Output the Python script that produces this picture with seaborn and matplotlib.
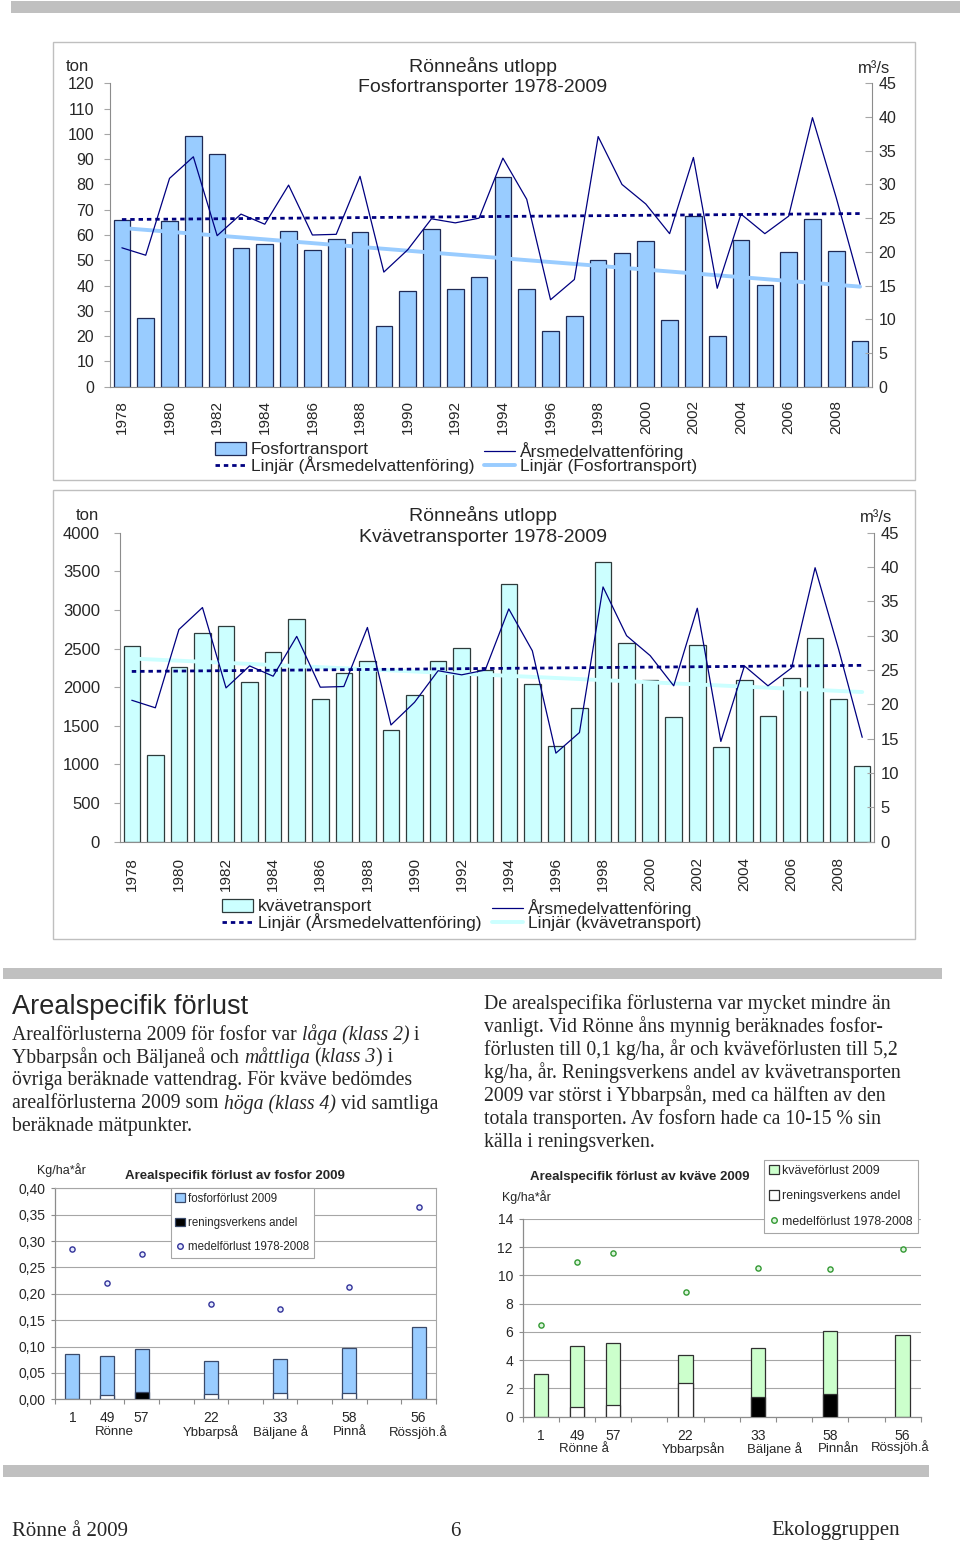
import numpy as np
import matplotlib
matplotlib.use("Agg")
import matplotlib.pyplot as plt
import seaborn as sns
from matplotlib.patches import Rectangle, Patch
from matplotlib.lines import Line2D

# Page size in pixels
W, H = 960, 1544

# Transport data 1978-2009
years = list(range(1978, 2010))
fosfor_ton = [66, 27, 65.5, 99, 92, 55, 56.6, 61.7, 54, 58.5, 61.3, 24.1, 37.8, 62.2, 38.8, 43.3,
              83, 38.5, 22, 27.8, 50, 52.7, 57.5, 26.5, 67.4, 20, 57.9, 40.4, 53.1, 66.2, 53.8, 18]
kvave_ton = [2537, 1126, 2257, 2705, 2796, 2067, 2451, 2887, 1851, 2179, 2343, 1441, 1894, 2343, 2507, 2218,
             3340, 2037, 1238, 1735, 3625, 2572, 2097, 1614, 2542, 1221, 2093, 1631, 2123, 2636, 1851, 984]
flode = [20.6, 19.5, 30.9, 34.1, 22.4, 25.6, 24.1, 29.9, 22.5, 22.6, 31.2, 17.0, 20.3, 24.9, 24.3, 25.0,
         33.9, 27.8, 12.9, 15.9, 37.1, 30.0, 27.1, 22.7, 34.0, 14.6, 25.6, 22.7, 25.3, 39.9, 28.0, 15.2]

# Area specific losses 2009 per station
stations = ["1", "49", "57", "22", "33", "58", "56"]
p_namn = ["Rönne", "Ybbarpså", "Bäljane å", "Pinnå", "Rössjöh.å"]
n_namn = ["Rönne å", "Ybbarpsån", "Bäljane å", "Pinnån", "Rössjöh.å"]
p_forlust = [0.085, 0.083, 0.095, 0.072, 0.077, 0.097, 0.138]
p_andel = [0, 0.008, 0.013, 0.010, 0.012, 0.012, 0]
p_andel_typ = ["vit", "vit", "svart", "vit", "vit", "vit", "vit"]
p_medel = [0.284, 0.221, 0.276, 0.181, 0.172, 0.212, 0.365]
n_forlust = [3.0, 5.0, 5.22, 4.39, 4.9, 6.09, 5.8]
n_andel = [0, 0.68, 0.8, 2.36, 1.37, 1.6, 0]
n_andel_typ = ["vit", "vit", "vit", "vit", "svart", "svart", "vit"]
n_medel = [6.49, 10.93, 11.59, 8.85, 10.5, 10.43, 11.85]

NAVY = "#000080"
AXC = "#8C8C8C"
GRID = "#A6A6A6"
SERIF = ["Liberation Serif", "DejaVu Serif"]

sns.set_theme(style="white")
plt.rcParams["font.family"] = ["Liberation Sans", "DejaVu Sans"]

fig = plt.figure(figsize=(W / 100, H / 100), dpi=100)
fig.patch.set_facecolor("white")


def px_axes(x0, y0, x1, y1):
    return fig.add_axes([x0 / W, 1 - y1 / H, (x1 - x0) / W, (y1 - y0) / H])


def put(x, y, s, **kw):
    return fig.text(x / W, 1 - y / H, s, **kw)


def band(x0, y0, x1, y1, color="#C0C0C0", fill=True, lw=0):
    fig.add_artist(Rectangle((x0 / W, 1 - y1 / H), (x1 - x0) / W, (y1 - y0) / H,
                             transform=fig.transFigure, fill=fill, facecolor=color,
                             edgecolor=color, lw=lw))


# Transport chart with flow on a second axis
def transport_chart(area, values, ymax, ystep, fill, edge, trend, name, title, ysize, xpad, ypad, leg):
    ax = px_axes(*area)
    sns.barplot(x=years, y=values, native_scale=True, width=0.7, color=fill, saturation=1,
                edgecolor=edge, linewidth=0.9, errorbar=None, ax=ax)
    sns.regplot(x=years, y=values, scatter=False, ci=None, truncate=True, color=trend,
                line_kws={"lw": 2.8}, ax=ax)
    ax.set_ylim(0, ymax)
    ax.set_yticks(np.arange(0, ymax + 1, ystep))
    ax.tick_params(axis="y", left=True, direction="out", length=4, width=0.8, color=GRID,
                   labelsize=ysize, pad=ypad)
    ax.set_xticks(range(1978, 2010, 2))
    ax.set_xticklabels([str(y) for y in range(1978, 2010, 2)], rotation=90, fontsize=11)
    ax.tick_params(axis="x", length=0, pad=xpad)
    ax.set_xlabel("")
    ax.set_ylabel("")
    ax.spines[["top", "right"]].set_visible(False)
    ax.spines[["left", "bottom"]].set_color(AXC)
    ax.spines[["left", "bottom"]].set_linewidth(0.8)

    ax2 = ax.twinx()
    sns.lineplot(x=years, y=flode, color=NAVY, lw=0.9, ax=ax2)
    sns.regplot(x=years, y=flode, scatter=False, ci=None, truncate=True, color=NAVY,
                line_kws={"lw": 2.0, "ls": (0, (1.6, 1.4))}, ax=ax2)
    ax2.set_ylim(0, 45)
    ax2.set_yticks(range(0, 46, 5))
    ax2.tick_params(axis="y", right=True, direction="in", length=5, width=0.8, color=GRID,
                    labelsize=ysize, pad=4.5)
    ax2.set_ylabel("")
    ax2.spines[["top", "left", "bottom"]].set_visible(False)
    ax2.spines["right"].set_color(AXC)
    ax2.spines["right"].set_linewidth(0.8)
    ax.set_xlim(1977.5, 2009.5)

    x0, y0, x1, y1 = area
    put(483, y0 - 17, "Rönneåns utlopp", fontsize=14, ha="center", va="center")
    put(483, y0 + 4.5, title, fontsize=14, ha="center", va="center")
    put(x0 - 44, y0 - 17, "ton", fontsize=12, ha="left", va="center")
    put(x1 - 14, y0 - 15, "m³/s", fontsize=12, ha="left", va="center")

    lx1, lx2, ly = leg
    dash = Line2D([], [], color=NAVY, lw=2.0, ls=(0, (1.6, 1.4)), label="Linjär (Årsmedelvattenföring)")
    col1 = [Patch(facecolor=fill, edgecolor=edge, lw=0.9, label=name), dash]
    col2 = [Line2D([], [], color=NAVY, lw=0.9, label="Årsmedelvattenföring"),
            Line2D([], [], color=trend, lw=2.8, label=f"Linjär ({name})")]
    for lx, hs in [(lx1, col1), (lx2, col2)]:
        fig.legend(handles=hs, loc="upper left", bbox_to_anchor=(lx / W, 1 - ly / H),
                   frameon=False, fontsize=12.5, borderpad=0, borderaxespad=0, labelspacing=-0.08,
                   handlelength=1.8, handleheight=0.75, handletextpad=0.25)


# Area loss chart with stacked share and mean markers
slot_pos = [0, 1, 2, 4, 6, 8, 10]


def loss_chart(area, total, andel, andel_typ, medel, ymax, ystep, fmt, fill, edge, dot_fill, dot_edge,
               first_label, names, name_pos, box, title, title_x, unit_xy, leg_anchor, leg_size, leg_space):
    ax = px_axes(*area)
    sns.barplot(x=slot_pos, y=total, native_scale=True, width=0.4, color=fill, saturation=1,
                edgecolor=edge, linewidth=0.9, errorbar=None, ax=ax, zorder=2)
    keep = [i for i, v in enumerate(andel) if v > 0]
    sns.barplot(x=[slot_pos[i] for i in keep], y=[andel[i] for i in keep],
                hue=[andel_typ[i] for i in keep], palette={"vit": "white", "svart": "black"},
                native_scale=True, dodge=False, width=0.4, saturation=1, edgecolor=edge,
                linewidth=0.9, errorbar=None, legend=False, ax=ax, zorder=3)
    sns.scatterplot(x=slot_pos, y=medel, marker="o", s=14, color=dot_fill, edgecolor=dot_edge,
                    linewidth=1.0, ax=ax, zorder=4)
    ax.set_xlim(-0.5, 10.5)
    ax.set_ylim(0, ymax)
    ticks = np.arange(0, ymax + ystep / 2, ystep)
    ax.set_yticks(ticks)
    ax.set_yticklabels([fmt(t) for t in ticks])
    ax.yaxis.grid(True, color=GRID, lw=0.8)
    ax.set_axisbelow(True)
    ax.set_xticks([])
    ax.set_xticks(np.arange(-0.5, 11, 1), minor=True)
    ax.tick_params(axis="x", which="minor", bottom=True, direction="out", length=3.5, width=0.8, color=AXC)
    ax.tick_params(axis="y", left=True, direction="out", length=3, width=0.8, color=AXC,
                   labelsize=10, pad=4)
    ax.set_xlabel("")
    ax.set_ylabel("")
    ax.spines[["left", "bottom"]].set_color(AXC)
    ax.spines[["left", "bottom"]].set_linewidth(0.9)
    if box:
        ax.spines[["top", "right"]].set_color(GRID)
        ax.spines[["top", "right"]].set_linewidth(0.8)
    else:
        ax.spines[["top", "right"]].set_visible(False)

    x0, y0, x1, y1 = area
    h = y1 - y0
    trans = ax.get_xaxis_transform()
    for p, s in zip(slot_pos, stations):
        ax.text(p, -19 / h, s, transform=trans, ha="center", va="center", fontsize=10)
    for (p, dy), s in zip(name_pos, names):
        ax.text(p, -dy / h, s, transform=trans, ha="center", va="center", fontsize=9.5)

    put(title_x, y0 - (12 if box else 42), title, fontsize=9.5, fontweight="bold", ha="center", va="center")
    put(unit_xy[0], unit_xy[1], "Kg/ha*år", fontsize=9, ha="left", va="center")

    handles = [Patch(facecolor=fill, edgecolor=edge, lw=0.9, label=first_label),
               Patch(facecolor=("black" if box else "white"), edgecolor=edge, lw=0.9, label="reningsverkens andel"),
               Line2D([], [], ls="", marker="o", ms=4, mfc=dot_fill, mec=dot_edge, mew=1.0,
                      label="medelförlust 1978-2008")]
    lg = ax.legend(handles=handles, loc="upper left", bbox_to_anchor=leg_anchor, fontsize=leg_size,
                   frameon=True, fancybox=False, edgecolor=GRID, framealpha=1, borderpad=0.4,
                   labelspacing=leg_space, handlelength=0.8, handleheight=0.8, handletextpad=0.3,
                   borderaxespad=0)
    lg.get_frame().set_linewidth(0.8)
    lg.set_zorder(6)


# Page decorations
band(11, 1, 960, 13)
band(3, 968, 942, 979)
band(3, 1465, 929, 1477)
band(53, 42, 915, 480, color="#BFBFBF", fill=False, lw=1)
band(53, 490, 915, 939, color="#BFBFBF", fill=False, lw=1)

transport_chart((110, 83.3, 872, 386.7), fosfor_ton, 120, 10, "#99CCFF", "#1F2A55", "#99CCFF",
                "Fosfortransport", "Fosfortransporter 1978-2009", 11.5, 9.5, 7.4, (215, 484, 442))
transport_chart((120, 532.7, 874, 841.7), kvave_ton, 4000, 500, "#CCFFFF", "#2E3B3B", "#CCFFFF",
                "kvävetransport", "Kvävetransporter 1978-2009", 12, 11, 10.5, (222, 492, 899))

loss_chart((55, 1188.3, 436, 1399.3), p_forlust, p_andel, p_andel_typ, p_medel, 0.40, 0.05,
           lambda t: f"{t:.2f}".replace(".", ","), "#99CCFF", "#3A4A6A", "#E6ECFF", "#333399",
           "fosforförlust 2009", p_namn, [(1.2, 33), (4.0, 33), (6.0, 33), (8.0, 33), (10.0, 33)], True,
           "Arealspecifik förlust av fosfor 2009", 235, (37, 1170), (0.304, 1.0), 8.3, 1.05)
loss_chart((522.7, 1219, 920.7, 1416.7), n_forlust, n_andel, n_andel_typ, n_medel, 14, 2,
           lambda t: f"{t:.0f}", "#CCFFCC", "#303030", "#DDF5DD", "#339933",
           "kväveförlust 2009", n_namn, [(1.2, 32), (4.23, 32), (6.47, 32), (8.24, 32), (9.92, 30.5)], False,
           "Arealspecifik förlust av kväve 2009", 640, (502, 1197), (0.606, 1.30), 8.9, 1.1)

# Text section
renderer = fig.canvas.get_renderer()
BODY = 14.2


def text_width(s, style):
    a = put(0, 0, "|" + s + "|", fontsize=BODY, family=SERIF, style=style)
    b = put(0, 0, "||", fontsize=BODY, family=SERIF, style=style)
    w = a.get_window_extent(renderer).width - b.get_window_extent(renderer).width
    a.remove()
    b.remove()
    return w


def rich_line(x, y, parts):
    for s, style in parts:
        put(x, y, s, fontsize=BODY, family=SERIF, style=style, ha="left", va="center")
        x += text_width(s, style)


put(12, 1007, "Arealspecifik förlust", fontsize=19.5, ha="left", va="center")
left_lines = [
    [("Arealförlusterna 2009 för fosfor var ", "normal"), ("låga (klass 2)", "italic"), (" i", "normal")],
    [("Ybbarpsån och Bäljaneå och ", "normal"), ("måttliga", "italic"), (" (", "normal"),
     ("klass 3", "italic"), (") i", "normal")],
    [("övriga beräknade vattendrag. För kväve bedömdes", "normal")],
    [("arealförlusterna 2009 som ", "normal"), ("höga (klass 4)", "italic"), (" vid samtliga", "normal")],
    [("beräknade mätpunkter.", "normal")],
]
for i, parts in enumerate(left_lines):
    rich_line(12, 1035 + 23 * i, parts)

right_lines = [
    "De arealspecifika förlusterna var mycket mindre än",
    "vanligt. Vid Rönne åns mynnig beräknades fosfor-",
    "förlusten till 0,1 kg/ha, år och kväveförlusten till 5,2",
    "kg/ha, år. Reningsverkens andel av kvävetransporten",
    "2009 var störst i Ybbarpsån, med ca hälften av den",
    "totala transporten. Av fosforn hade ca 10-15 % sin",
    "källa i reningsverken.",
]
for i, s in enumerate(right_lines):
    put(484, 1004 + 23 * i, s, fontsize=BODY, family=SERIF, ha="left", va="center")

# Footer
put(12, 1531, "Rönne å 2009", fontsize=15, family=SERIF, ha="left", va="center")
put(455, 1531, "6", fontsize=15, family=SERIF, ha="center", va="center")
put(900, 1531, "Ekologgruppen", fontsize=15, family=SERIF, ha="right", va="center")

fig.savefig("out.png", dpi=100, facecolor="white")
